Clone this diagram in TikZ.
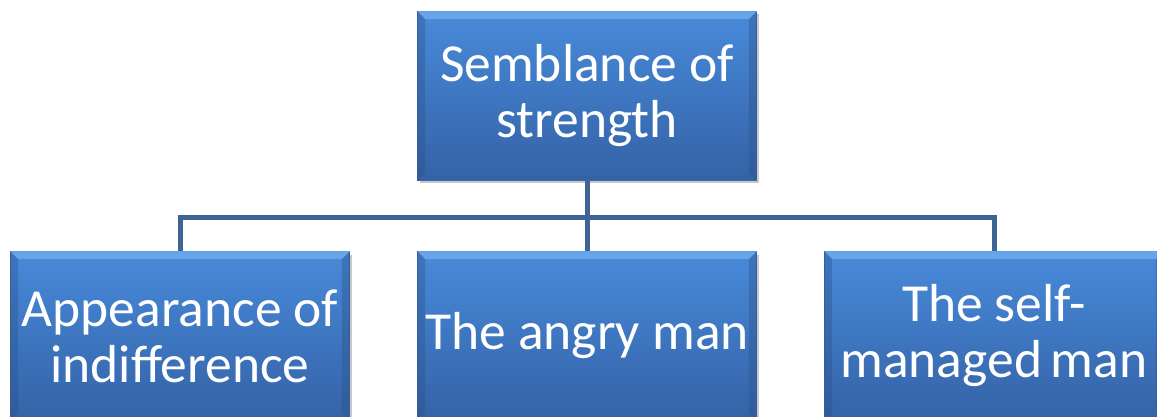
\documentclass[tikz,border=0pt]{standalone}
\usepackage{fontspec}
\setmainfont{Carlito}
\usetikzlibrary{shadows,calc}
\definecolor{boxtop}{RGB}{72,138,218}
\definecolor{boxbot}{RGB}{52,98,166}
\definecolor{boxedge}{RGB}{58,104,168}
\definecolor{bevel}{RGB}{112,172,236}
\definecolor{lnk}{RGB}{62,100,150}
\tikzset{
  orgbox/.style={rectangle, minimum width=339pt, minimum height=169pt, inner sep=0pt,
    top color=boxtop, bottom color=boxbot, draw=boxedge, line width=0.8pt,
    text=white, align=center, font=\fontsize{53.5}{56}\selectfont,
    drop shadow={shadow xshift=2pt, shadow yshift=-3pt, opacity=0.3, fill=black!70}},
  link/.style={draw=lnk, line width=5pt},
}
\newcommand{\bevelbox}[1]{%
  \fill[bevel, opacity=0.8] (#1.north west) -- (#1.north east) -- ($(#1.north east)+(-8,8)$) -- ($(#1.north west)+(8,8)$) -- cycle;
  \fill[boxbot!80!black, opacity=0.35] (#1.north west) -- ($(#1.north west)+(8,8)$) -- ($(#1.south west)+(8,-8)$) -- (#1.south west) -- cycle;
  \fill[boxbot!80!black, opacity=0.35] (#1.north east) -- ($(#1.north east)+(-8,8)$) -- ($(#1.south east)+(-8,-8)$) -- (#1.south east) -- cycle;
}
\begin{document}
\begin{tikzpicture}[x=1pt,y=-1pt]
\useasboundingbox (0,0) rectangle (1157,417);
\clip (0,0) rectangle (1157,417);
\fill[white] (0,0) rectangle (1157,417);
\coordinate (bus) at (587,217);
\node[orgbox] (top) at (587,96) {Semblance of\\strength};
\node[orgbox] (left) at (180,336) {Appearance of\\indifference};
\node[orgbox] (mid) at (587,336) {The angry man};
\node[orgbox] (right) at (994,336) {The self-\\managed\,man};
\draw[link] (top.south) -- (mid.north);
\draw[link] (left.north) -- (left.north |- bus) -- (right.north |- bus) -- (right.north);
\bevelbox{top}
\bevelbox{left}
\bevelbox{mid}
\bevelbox{right}
\end{tikzpicture}
\end{document}
